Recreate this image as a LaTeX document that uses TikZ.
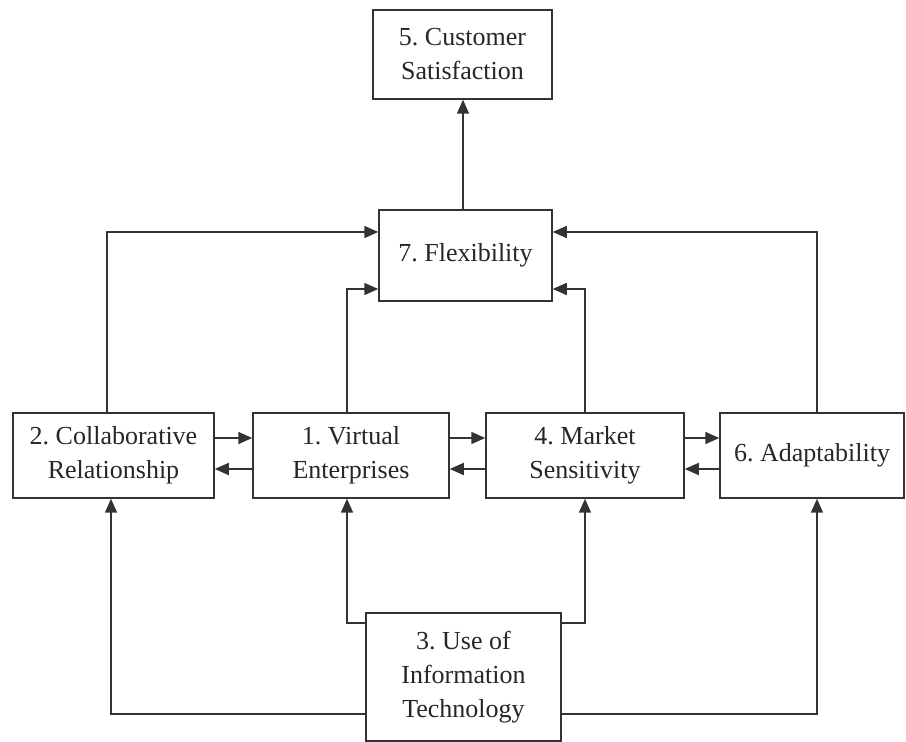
\documentclass[tikz,border=0pt]{standalone}
\usepackage{fontspec}
\setmainfont{Liberation Serif}
\usetikzlibrary{arrows.meta}
\frenchspacing
\begin{document}
\begin{tikzpicture}[x=0.5pt,y=-0.5pt,
    box/.style={draw,rectangle,black!80,line width=0.75pt,inner sep=0pt,align=center,text=black!85,font=\fontsize{13}{17}\selectfont},
    arr/.style={-{Triangle[length=7pt,width=6pt]},black!80,line width=0.75pt}]
    \useasboundingbox (0,0) rectangle (906,742);
        \node[box,minimum width=89.5pt,minimum height=44.5pt] (n5) at (462.5,54.5){5. Customer\\Satisfaction};
        \node[box,minimum width=86.5pt,minimum height=45.5pt] (n7) at (465.5,255.5){7. Flexibility};
        \node[box,minimum width=100.5pt,minimum height=42.5pt] (n2) at (113.5,455.5){2. Collaborative\\Relationship};
        \node[box,minimum width=98pt,minimum height=42.5pt] (n1) at (351,455.5){1. Virtual\\Enterprises};
        \node[box,minimum width=99pt,minimum height=42.5pt] (n4) at (585,455.5){4. Market\\Sensitivity};
        \node[box,minimum width=92pt,minimum height=42.5pt] (n6) at (812,455.5){6. Adaptability};
        \node[box,minimum width=97.5pt,minimum height=64pt] (n3) at (463.5,677){3. Use of\\Information\\Technology};
        % vers 5 et 7
        \draw[arr] ([xshift=-1.25pt]n7.north) -- ([xshift=-1.25pt]n7.north |- n5.south);
        \draw[arr] ([xshift=-3.25pt]n2.north) |- ([yshift=11.75pt]n7.west);
        \draw[arr] ([xshift=-2pt]n1.north) |- ([yshift=-16.75pt]n7.west);
        \draw[arr] (n4.north) |- ([yshift=-16.75pt]n7.east);
        \draw[arr] ([xshift=2.5pt]n6.north) |- ([yshift=11.75pt]n7.east);
        % rangee du milieu
        \draw[arr] ([yshift=8.75pt]n2.east) -- ([yshift=8.75pt]n1.west);
        \draw[arr] ([yshift=-6.75pt]n1.west) -- ([yshift=-6.75pt]n2.east);
        \draw[arr] ([yshift=8.75pt]n1.east) -- ([yshift=8.75pt]n4.west);
        \draw[arr] ([yshift=-6.75pt]n4.west) -- ([yshift=-6.75pt]n1.east);
        \draw[arr] ([yshift=8.75pt]n4.east) -- ([yshift=8.75pt]n6.west);
        \draw[arr] ([yshift=-6.75pt]n6.west) -- ([yshift=-6.75pt]n4.east);
        % depuis 3
        \draw[arr] ([yshift=27pt]n3.west) -| ([xshift=-2pt]n1.south);
        \draw[arr] ([yshift=27pt]n3.east) -| (n4.south);
        \draw[arr] ([yshift=-18.5pt]n3.west) -| ([xshift=-1.25pt]n2.south);
        \draw[arr] ([yshift=-18.5pt]n3.east) -| ([xshift=2.5pt]n6.south);
    \end{tikzpicture}
\end{document}
